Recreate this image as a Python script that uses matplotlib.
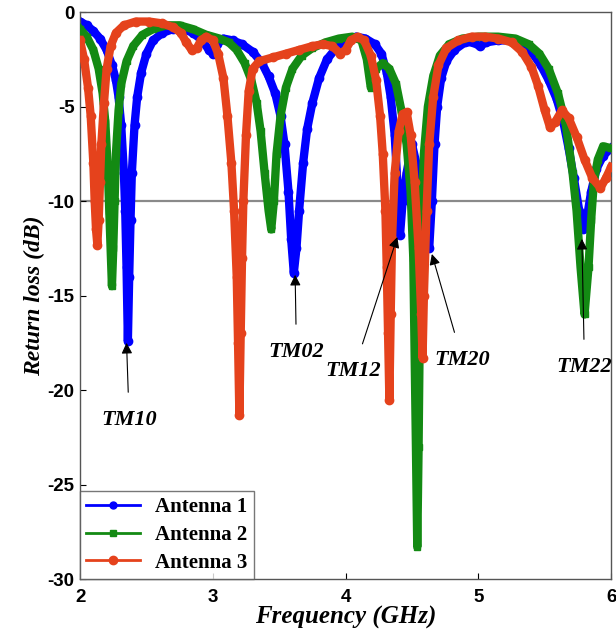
import numpy as np
import matplotlib
matplotlib.use("Agg")
import matplotlib.pyplot as plt
from matplotlib.lines import Line2D

plt.rcParams["axes.unicode_minus"] = False

# Antenna 1 (blue) - frequency (GHz) and return loss (dB)
f1 = [2.00, 2.05, 2.10, 2.15, 2.20, 2.24, 2.27, 2.29, 2.31, 2.33, 2.34, 2.35, 2.36,
      2.37, 2.38, 2.39, 2.41, 2.43, 2.46, 2.50, 2.55, 2.62, 2.70, 2.78, 2.85, 2.92,
      2.97, 3.00, 3.03, 3.08, 3.15, 3.22, 3.30, 3.37, 3.42, 3.47, 3.51, 3.54, 3.57,
      3.59, 3.61, 3.63, 3.65, 3.68, 3.71, 3.75, 3.80, 3.86, 3.93, 4.00, 4.08, 4.15,
      4.22, 4.27, 4.31, 4.34, 4.37, 4.39, 4.41, 4.43, 4.46, 4.50, 4.55, 4.59, 4.63,
      4.65, 4.67, 4.69, 4.72, 4.76, 4.82, 4.90, 4.96, 5.01, 5.06, 5.15, 5.25, 5.33,
      5.40, 5.47, 5.53, 5.59, 5.64, 5.68, 5.72, 5.76, 5.79, 5.82, 5.85, 5.89, 5.94, 6.00]
s1 = [-0.5, -0.7, -1.0, -1.4, -2.0, -2.8, -3.6, -4.5, -6.0, -8.5, -10.5, -13.5, -17.4,
      -14.0, -11.0, -8.5, -6.0, -4.5, -3.2, -2.2, -1.5, -1.1, -0.9, -0.9, -1.1, -1.5,
      -2.0, -2.2, -1.7, -1.4, -1.5, -1.7, -2.1, -2.7, -3.4, -4.3, -5.5, -7.0, -9.5,
      -12.0, -13.8, -12.5, -10.5, -8.0, -6.2, -4.8, -3.5, -2.5, -1.9, -1.5, -1.3, -1.4,
      -1.7, -2.2, -3.2, -4.5, -6.5, -9.0, -11.8, -10.0, -8.5, -7.0, -8.5, -10.5, -12.5,
      -10.0, -7.0, -5.0, -3.5, -2.6, -2.0, -1.6, -1.6, -1.8, -1.6, -1.5, -1.5, -1.7,
      -2.1, -2.8, -3.6, -4.6, -5.8, -7.2, -8.8, -10.5, -11.5, -10.8, -9.5, -8.3, -7.6, -7.2]

# Antenna 2 (green)
f2 = [2.00, 2.05, 2.10, 2.14, 2.17, 2.19, 2.21, 2.22, 2.23, 2.24, 2.25, 2.26, 2.27,
      2.29, 2.31, 2.35, 2.40, 2.47, 2.55, 2.65, 2.75, 2.85, 2.95, 3.05, 3.12, 3.18,
      3.24, 3.29, 3.33, 3.36, 3.39, 3.42, 3.44, 3.46, 3.48, 3.51, 3.55, 3.60, 3.67,
      3.75, 3.85, 3.95, 4.05, 4.12, 4.16, 4.19, 4.23, 4.28, 4.33, 4.38, 4.42, 4.46,
      4.49, 4.51, 4.52, 4.53, 4.54, 4.55, 4.56, 4.57, 4.59, 4.62, 4.66, 4.71, 4.78,
      4.88, 5.00, 5.15, 5.28, 5.38, 5.46, 5.53, 5.60, 5.66, 5.71, 5.74, 5.77, 5.80,
      5.83, 5.85, 5.87, 5.90, 5.94, 6.00]
s2 = [-0.9, -1.3, -2.0, -3.0, -4.3, -5.8, -8.5, -10.5, -12.5, -14.5, -12.5, -10.0, -7.5,
      -5.2, -3.8, -2.6, -1.8, -1.2, -0.9, -0.7, -0.7, -0.9, -1.2, -1.4, -1.6, -2.0,
      -2.7, -3.6, -4.8, -6.3, -8.5, -10.5, -11.5, -10.0, -7.5, -5.5, -4.0, -3.0, -2.3,
      -1.9, -1.6, -1.4, -1.3, -1.5, -2.5, -4.0, -3.0, -2.7, -3.0, -3.8, -5.2, -7.0,
      -9.5, -13.0, -18.0, -23.0, -28.3, -23.0, -16.0, -11.0, -7.5, -5.0, -3.4, -2.3, -1.7,
      -1.4, -1.3, -1.3, -1.4, -1.7, -2.2, -3.0, -4.3, -6.0, -8.5, -10.5, -13.5, -16.0,
      -13.5, -11.0, -9.0, -7.8, -7.1, -7.2]

# Antenna 3 (red)
f3 = [2.00, 2.03, 2.06, 2.08, 2.10, 2.11, 2.12, 2.13, 2.14, 2.15, 2.16, 2.18, 2.20,
      2.23, 2.27, 2.33, 2.42, 2.52, 2.62, 2.70, 2.76, 2.80, 2.84, 2.88, 2.91, 2.95,
      3.00, 3.04, 3.08, 3.11, 3.14, 3.16, 3.18, 3.19, 3.20, 3.21, 3.22, 3.23, 3.25,
      3.27, 3.30, 3.35, 3.45, 3.55, 3.65, 3.75, 3.83, 3.90, 3.96, 4.00, 4.04, 4.09,
      4.14, 4.19, 4.23, 4.26, 4.28, 4.30, 4.31, 4.32, 4.33, 4.34, 4.35, 4.37, 4.40,
      4.43, 4.46, 4.49, 4.52, 4.55, 4.57, 4.58, 4.59, 4.61, 4.63, 4.66, 4.70, 4.76,
      4.85, 4.95, 5.05, 5.15, 5.25, 5.33, 5.40, 5.45, 5.50, 5.54, 5.58, 5.63, 5.68,
      5.74, 5.80, 5.86, 5.92, 5.96, 6.00]
s3 = [-1.5, -2.5, -4.0, -5.5, -8.0, -10.0, -11.5, -12.3, -11.0, -9.0, -7.0, -4.8, -3.0,
      -1.8, -1.1, -0.7, -0.5, -0.5, -0.6, -0.8, -1.1, -1.6, -2.0, -1.9, -1.5, -1.3,
      -1.5, -2.2, -3.5, -5.5, -8.0, -10.5, -14.0, -17.5, -21.3, -17.0, -13.0, -10.0, -6.5,
      -4.2, -3.0, -2.6, -2.4, -2.2, -2.0, -1.8, -1.7, -1.8, -2.2, -2.0, -1.5, -1.3,
      -1.5, -2.3, -3.6, -5.5, -7.5, -10.5, -13.5, -17.0, -20.5, -16.0, -12.0, -8.5, -6.3,
      -5.4, -5.3, -6.5, -9.0, -12.5, -16.0, -18.3, -15.0, -10.5, -7.0, -4.5, -2.8, -1.9,
      -1.5, -1.3, -1.3, -1.4, -1.6, -2.1, -2.9, -3.9, -5.2, -6.1, -5.8, -5.2, -5.6,
      -6.6, -7.8, -8.8, -9.3, -8.8, -8.2]

# mode labels: text, arrow tip (f, dB), text position (f, dB)
modes = ["TM10", "TM02", "TM12", "TM20", "TM22"]
tips = [(2.35, -17.5), (3.62, -13.9), (4.39, -11.9), (4.65, -12.8), (5.78, -12.0)]
text_pos = [(2.37, -21.6), (3.63, -18.0), (4.06, -19.0), (4.88, -18.4), (5.80, -18.8)]

c_blue = "#0000ff"
c_green = "#138a13"
c_red = "#e5421c"

fig = plt.figure(figsize=(6.16, 6.37), dpi=100)
ax = fig.add_axes([0.130, 0.091, 0.862, 0.890])

ax.axhline(-10, color="#8a8a8a", lw=1.6, zorder=1)

ax.plot(f1, s1, color=c_blue, lw=6, marker="o", ms=6, zorder=2)
ax.plot(f2, s2, color=c_green, lw=6, marker="s", ms=5, zorder=3)
ax.plot(f3, s3, color=c_red, lw=6, marker="o", ms=6, zorder=4)

serif = "Liberation Serif"
for name, tip, pos in zip(modes, tips, text_pos):
    ax.annotate(name, xy=tip, xytext=pos, ha="center", va="center",
                fontsize=16, fontweight="bold", fontstyle="italic", family=serif,
                arrowprops=dict(arrowstyle="-|>", color="black", lw=0.8,
                                mutation_scale=16, shrinkA=11, shrinkB=0),
                zorder=6)

ax.set_xlim(2, 6)
ax.set_ylim(-30, 0)
ax.set_xticks([2, 3, 4, 5, 6])
ax.set_yticks([-30, -25, -20, -15, -10, -5, 0])
ax.tick_params(direction="in", length=4, width=0.8, labelsize=13.5)
ax.tick_params(axis="x", pad=7)
ax.tick_params(axis="y", pad=4)
for lab in ax.get_xticklabels() + ax.get_yticklabels():
    lab.set_fontweight("bold")
    lab.set_family("Liberation Sans")
for sp in ax.spines.values():
    sp.set_color("#555555")
    sp.set_linewidth(1.0)

ax.set_xlabel("Frequency (GHz)", fontsize=18, fontweight="bold", fontstyle="italic",
              family=serif, labelpad=0)
ax.set_ylabel("Return loss (dB)", fontsize=17, fontweight="bold", fontstyle="italic",
              family=serif, labelpad=2)

handles = [Line2D([], [], color=c_blue, lw=2, marker="o", ms=5),
           Line2D([], [], color=c_green, lw=2, marker="s", ms=4),
           Line2D([], [], color=c_red, lw=2, marker="o", ms=6)]
leg = ax.legend(handles, ["Antenna 1", "Antenna 2", "Antenna 3"], loc="lower left",
                prop={"family": serif, "weight": "bold", "size": 15},
                frameon=True, fancybox=False, borderaxespad=0, handlelength=2.6,
                labelspacing=0.38, borderpad=0.3, handletextpad=0.7)
leg.get_frame().set_edgecolor("#555555")
leg.get_frame().set_linewidth(1.0)
leg.set_zorder(7)

fig.savefig("out.png", dpi=100)
